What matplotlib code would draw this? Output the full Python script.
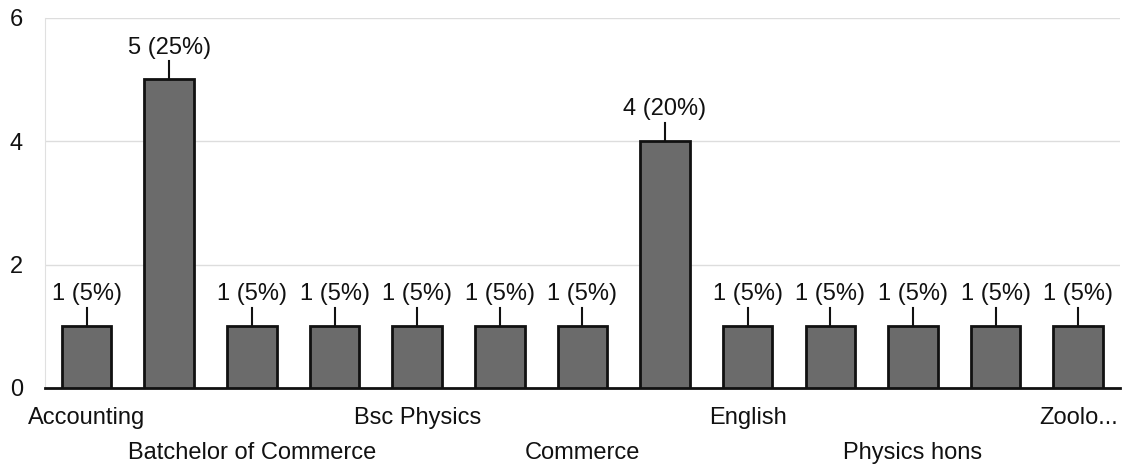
import numpy as np
import matplotlib.pyplot as plt
import matplotlib.transforms as mtransforms

plt.rcParams['font.family'] = ['Liberation Sans', 'DejaVu Sans']

# only every other category name is printed in the original chart
labels = ['Accounting', '', 'Batchelor of Commerce', '', 'Bsc Physics', '',
          'Commerce', '', 'English', '', 'Physics hons', '', 'Zoolo...']
counts = [1, 5, 1, 1, 1, 1, 1, 4, 1, 1, 1, 1, 1]
total = sum(counts)

fig = plt.figure(figsize=(11.32, 4.68), dpi=100)
ax = fig.add_axes([0.04, 0.171, 0.949, 0.791])

x = np.arange(len(counts))
ax.bar(x, counts, width=0.6, color='#6b6b6b', edgecolor='#111111', linewidth=2, zorder=3)

for i, v in enumerate(counts):
    ax.plot([i, i], [v, v + 0.3], color='#111111', lw=1.5, zorder=3)
    ax.text(i, v + 0.34, f'{v} ({v / total * 100:.0f}%)', ha='center', va='bottom',
            fontsize=17, color='#111111')

ax.set_xlim(-0.5, len(counts) - 0.5)
ax.set_ylim(0, 6)
ax.set_yticks([0, 2, 4, 6])
ax.set_xticks(x)
ax.set_xticklabels([])
ax.grid(axis='y', color='#dddddd', lw=1, zorder=0)
ax.tick_params(axis='both', length=0, labelsize=17, colors='#111111')
ax.tick_params(axis='y', pad=16)

# category names in two staggered rows, like the original
trans = mtransforms.blended_transform_factory(ax.transData, ax.transAxes)
for i, l in enumerate(labels):
    if not l:
        continue
    yrow = -0.08 if (i // 2) % 2 == 0 else -0.175
    ax.text(i, yrow, l, transform=trans, ha='center', va='center',
            fontsize=17, color='#111111')

for s in ['top', 'right']:
    ax.spines[s].set_visible(False)
ax.spines['left'].set_color('#e0e0e0')
ax.spines['bottom'].set_color('#111111')
ax.spines['bottom'].set_linewidth(2)

fig.savefig('out.png', dpi=100)
